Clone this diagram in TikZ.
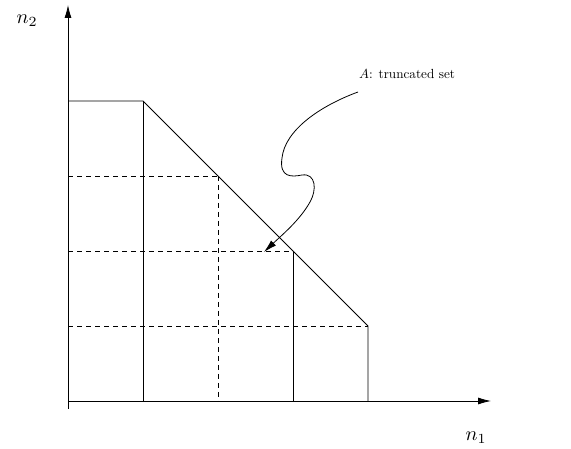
\documentclass[tikz,border=0pt]{standalone}
\usetikzlibrary{arrows.meta}
\tikzset{
  axisline/.style={line width=0.8pt,-{Latex[length=13pt,width=7pt]}},
  edgeline/.style={line width=0.8pt},
  gridline/.style={line width=0.8pt,dash pattern=on 5pt off 4pt},
  lbltext/.style={inner sep=0pt}}
\begin{document}
\begin{tikzpicture}[x=1pt,y=-1pt]
\useasboundingbox (0,0) rectangle (571,449);
\coordinate (O) at (68,401);
\coordinate (Ybot) at (68,409);
\coordinate (Ytop) at (68,5);
\coordinate (Xend) at (491,401);
\draw[axisline] (Ybot) -- (Ytop);
\draw[axisline] (O) -- (Xend);
\node[lbltext] (n2) at (27,21) {\scalebox{2.0}{$n_2$}};
\node[lbltext] (n1) at (476,438) {\scalebox{2.0}{$n_1$}};
% solid outline
\coordinate (p1) at (68,101);
\coordinate (p2) at (143,101);
\coordinate (p3) at (368,326);
\coordinate (p4) at (368,401);
\coordinate (q1) at (143,401);
\coordinate (q2) at (293,251);
\coordinate (q3) at (293,401);
\draw[edgeline] (p1) -- (p2) -- (p3) -- (p4);
\draw[edgeline] (p2) -- (q1);
\draw[edgeline] (q2) -- (q3);
% dashed grid
\coordinate (d1a) at (68,176);
\coordinate (d1b) at (218,176);
\coordinate (d2a) at (68,251);
\coordinate (d3a) at (68,326);
\coordinate (d4b) at (218,401);
\draw[gridline] (d1a) -- (d1b);
\draw[gridline] (d2a) -- (q2);
\draw[gridline] (d3a) -- (p3);
\draw[gridline] (d1b) -- (d4b);
% label and wavy arrow
\node[lbltext,anchor=west] (A) at (359,74) {\scalebox{1.32}{$A$: truncated set}};
\coordinate (tip) at (264,252);
\draw[edgeline,-{Latex[length=13pt,width=7pt]}] (358,92) .. controls (320,106) and (285,130) .. (282,158)
  .. controls (279,178) and (292,177) .. (302,175)
  .. controls (316,173) and (317,190) .. (310,202)
  .. controls (300,220) and (282,235) .. (tip);
\end{tikzpicture}
\end{document}
